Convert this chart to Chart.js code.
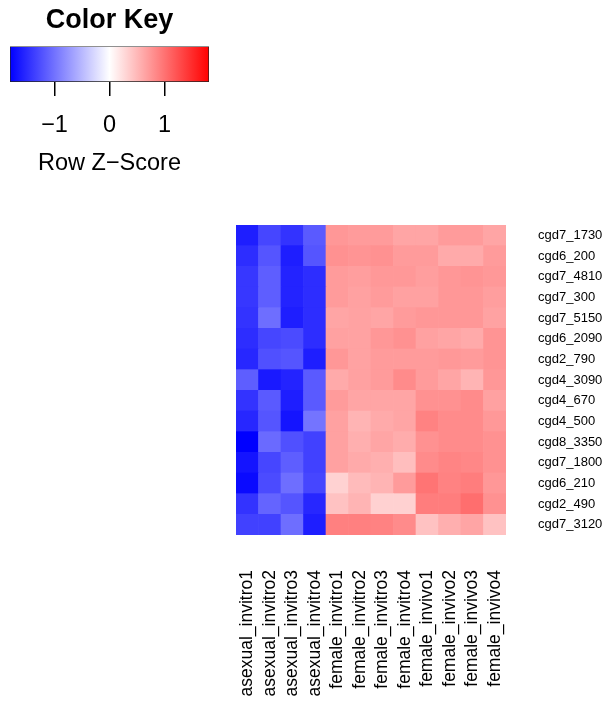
<!DOCTYPE html>
<html>
<head>
<meta charset="utf-8">
<script src="https://cdn.jsdelivr.net/npm/chart.js@4/dist/chart.umd.min.js"></script>
<style>
  html, body { margin: 0; padding: 0; background: #fff; }
  #wrap { position: relative; width: 607px; height: 702px; }
  canvas { position: absolute; left: 0; top: 0; }
</style>
</head>
<body>
<div id="wrap">
  <canvas id="heat" width="607" height="702"></canvas>
  <canvas id="key" width="220" height="178"></canvas>
</div>
<script>
// columns (samples) and rows (genes), top row first
const colLabels = ['asexual_invitro1', 'asexual_invitro2', 'asexual_invitro3', 'asexual_invitro4',
  'female_invitro1', 'female_invitro2', 'female_invitro3', 'female_invitro4',
  'female_invivo1', 'female_invivo2', 'female_invivo3', 'female_invivo4'];
const rowLabels = ['cgd7_1730', 'cgd6_200', 'cgd7_4810', 'cgd7_300', 'cgd7_5150', 'cgd6_2090', 'cgd2_790',
  'cgd4_3090', 'cgd4_670', 'cgd4_500', 'cgd8_3350', 'cgd7_1800', 'cgd6_210', 'cgd2_490', 'cgd7_3120'];

// row z-scores
const cgd7_1730 = [-1.60, -1.31, -1.45, -1.17, 0.74, 0.71, 0.71, 0.64, 0.64, 0.71, 0.71, 0.64];
const cgd6_200  = [-1.49, -1.21, -1.60, -1.21, 0.78, 0.76, 0.78, 0.71, 0.71, 0.60, 0.60, 0.71];
const cgd7_4810 = [-1.42, -1.14, -1.56, -1.49, 0.71, 0.69, 0.73, 0.73, 0.69, 0.74, 0.76, 0.73];
const cgd7_300  = [-1.42, -1.14, -1.56, -1.49, 0.71, 0.67, 0.71, 0.67, 0.67, 0.74, 0.74, 0.69];
const cgd7_5150 = [-1.45, -1.03, -1.60, -1.49, 0.64, 0.66, 0.64, 0.71, 0.74, 0.74, 0.74, 0.66];
const cgd6_2090 = [-1.49, -1.31, -1.28, -1.49, 0.67, 0.66, 0.74, 0.78, 0.67, 0.64, 0.60, 0.76];
const cgd2_790  = [-1.53, -1.24, -1.21, -1.60, 0.74, 0.66, 0.71, 0.71, 0.71, 0.73, 0.71, 0.76];
const cgd4_3090 = [-1.14, -1.63, -1.56, -1.17, 0.60, 0.67, 0.71, 0.82, 0.71, 0.64, 0.53, 0.74];
const cgd4_670  = [-1.45, -1.17, -1.60, -1.17, 0.71, 0.64, 0.64, 0.64, 0.78, 0.78, 0.82, 0.67];
const cgd4_500  = [-1.53, -1.21, -1.67, -0.99, 0.67, 0.53, 0.60, 0.64, 0.89, 0.82, 0.82, 0.73];
const cgd8_3350 = [-1.81, -1.06, -1.24, -1.35, 0.67, 0.57, 0.64, 0.59, 0.78, 0.82, 0.82, 0.78];
const cgd7_1800 = [-1.67, -1.31, -1.14, -1.35, 0.67, 0.60, 0.57, 0.46, 0.82, 0.87, 0.85, 0.78];
const cgd6_210  = [-1.74, -1.28, -1.03, -1.31, 0.32, 0.48, 0.53, 0.71, 0.99, 0.89, 0.92, 0.74];
const cgd2_490  = [-1.45, -1.10, -1.21, -1.53, 0.43, 0.53, 0.33, 0.33, 0.92, 0.92, 1.03, 0.78];
const cgd7_3120 = [-1.35, -1.35, -1.03, -1.60, 0.90, 0.90, 0.89, 0.82, 0.43, 0.57, 0.64, 0.43];
const zRows = [cgd7_1730, cgd6_200, cgd7_4810, cgd7_300, cgd7_5150, cgd6_2090, cgd2_790,
  cgd4_3090, cgd4_670, cgd4_500, cgd8_3350, cgd7_1800, cgd6_210, cgd2_490, cgd7_3120];

// colour key
const keyRange = [-1.81, 1.81];
const keyTicks = [-1, 0, 1];

const FONT = '"Liberation Sans", Arial, Helvetica, sans-serif';
Chart.defaults.font.family = FONT;
Chart.defaults.color = '#000';

function zColor(z) {
  const t = Math.min(Math.abs(z) / keyRange[1], 1);
  const c = Math.round(255 * (1 - t));
  return z < 0 ? `rgb(${c},${c},255)` : `rgb(255,${c},${c})`;
}

// one stacked dataset per row, bottom row first
const datasets = zRows.slice().reverse().map((row, i) => ({
  label: rowLabels[rowLabels.length - 1 - i],
  data: row.map(() => 1),
  backgroundColor: row.map(zColor),
  borderWidth: 0,
  barPercentage: 1,
  categoryPercentage: 1
}));

new Chart(document.getElementById('heat'), {
  type: 'bar',
  data: { labels: colLabels, datasets: datasets },
  options: {
    responsive: false,
    devicePixelRatio: 1,
    animation: false,
    layout: { padding: { left: 236, top: 225, right: 0, bottom: 0 } },
    plugins: { legend: { display: false }, tooltip: { enabled: false }, title: { display: false } },
    scales: {
      x: {
        stacked: true,
        grid: { display: false, drawTicks: false, tickLength: 0 },
        border: { display: false },
        ticks: { autoSkip: false, minRotation: 90, maxRotation: 90, padding: 35, font: { size: 17.5 } },
        afterFit: (s) => { s.height = 167; }
      },
      y: { stacked: true, display: false, min: 0, max: rowLabels.length },
      yr: {
        type: 'category',
        position: 'right',
        labels: rowLabels,
        offset: true,
        grid: { display: false, drawTicks: false, tickLength: 0 },
        border: { display: false },
        ticks: { autoSkip: false, padding: 32, font: { size: 13 } },
        afterFit: (s) => { s.width = 101; }
      }
    }
  }
});

function keyGradient(ctx) {
  const area = ctx.chart.chartArea;
  if (!area) return '#fff';
  const g = ctx.chart.ctx.createLinearGradient(area.left, 0, area.right, 0);
  g.addColorStop(0, 'rgb(0,0,255)');
  g.addColorStop(0.5, 'rgb(255,255,255)');
  g.addColorStop(1, 'rgb(255,0,0)');
  return g;
}

new Chart(document.getElementById('key'), {
  type: 'bar',
  data: {
    labels: [''],
    datasets: [{
      data: [keyRange],
      backgroundColor: keyGradient,
      borderColor: '#222',
      borderWidth: 1,
      borderSkipped: false,
      barPercentage: 1,
      categoryPercentage: 1
    }]
  },
  options: {
    indexAxis: 'y',
    responsive: false,
    devicePixelRatio: 1,
    animation: false,
    layout: { padding: { left: 10, right: 11, top: 0, bottom: 0 } },
    plugins: {
      legend: { display: false },
      tooltip: { enabled: false },
      title: {
        display: true,
        text: 'Color Key',
        font: { size: 27, weight: 'bold' },
        color: '#000',
        padding: { top: 4, bottom: 10 }
      }
    },
    scales: {
      x: {
        min: keyRange[0],
        max: keyRange[1],
        grid: { drawOnChartArea: false, drawTicks: true, tickLength: 14, color: '#000', lineWidth: 1.5 },
        border: { display: false },
        afterBuildTicks: (s) => { s.ticks = keyTicks.map(v => ({ value: v })); },
        ticks: {
          padding: 15,
          font: { size: 23.5 },
          callback: (v) => (v < 0 ? '\u2212' + Math.abs(v) : String(v))
        },
        title: { display: true, text: 'Row Z\u2212Score', font: { size: 23.5 }, padding: 0 },
        afterFit: (s) => { s.height = 96; }
      },
      y: { display: false }
    }
  }
});
</script>
</body>
</html>
